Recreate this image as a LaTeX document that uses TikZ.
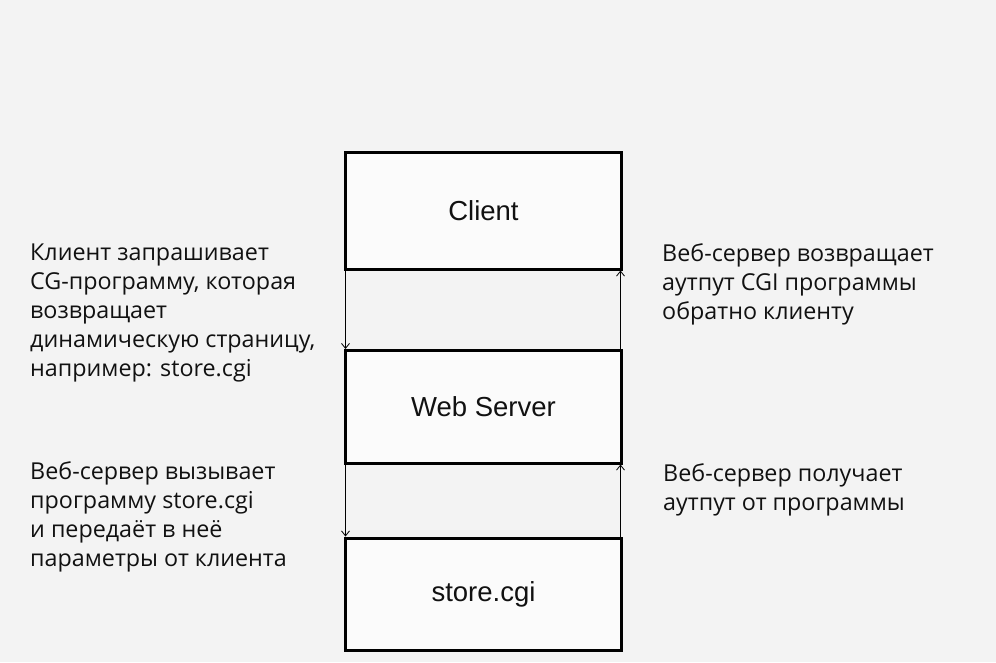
\documentclass[tikz,border=0pt]{standalone}
\usepackage{fontspec}
\setmainfont{Liberation Sans}
\newfontfamily\sidefont{Open Sans}
\usetikzlibrary{arrows.meta}
\definecolor{bgc}{HTML}{F3F3F3}
\definecolor{boxfill}{HTML}{FBFBFB}
\definecolor{ink}{HTML}{111111}
\begin{document}
\begin{tikzpicture}[x=1pt,y=-1pt,
  stagebox/.style={draw=black,line width=3pt,fill=boxfill,text=ink,minimum width=276pt,outer sep=0pt,inner sep=0pt,font=\fontsize{27.5}{32}\selectfont},
  flowarr/.style={line width=0.8pt,-{Straight Barb[length=5pt,width=8pt,line width=0.8pt]},shorten >=1.5pt},
  sidetext/.style={anchor=base west,align=left,inner sep=0pt,text=ink,font=\sidefont\fontsize{23.3}{29}\selectfont}]
\fill[bgc] (0,0) rectangle (996,662);
\useasboundingbox (0,0) rectangle (996,662);
\node[stagebox,minimum height=117pt] (client) at (483.5,210.5) {Client};
\node[stagebox,minimum height=112.5pt] (web) at (483.5,406.75) {Web Server};
\node[stagebox,minimum height=112pt] (store) at (483.5,594) {store.cgi};
\draw[flowarr] (client.south west) -- (web.north west);
\draw[flowarr] ([xshift=-1pt]web.north east) -- ([xshift=-1pt]client.south east);
\draw[flowarr] (web.south west) -- (store.north west);
\draw[flowarr] ([xshift=-1pt]store.north east) -- ([xshift=-1pt]web.south east);
\node[sidetext] (t1) at (30,376) {Клиент запрашивает\\CG-программу, которая\\возвращает\\динамическую страницу,\\например: store.cgi};
\node[sidetext] (t2) at (662,319) {Веб-сервер возвращает\\аутпут CGI программы\\обратно клиенту};
\node[sidetext] (t3) at (30,566) {Веб-сервер вызывает\\программу store.cgi\\и передаёт в неё\\параметры от клиента};
\node[sidetext] (t4) at (663,510) {Веб-сервер получает\\аутпут от программы};
\end{tikzpicture}
\end{document}
